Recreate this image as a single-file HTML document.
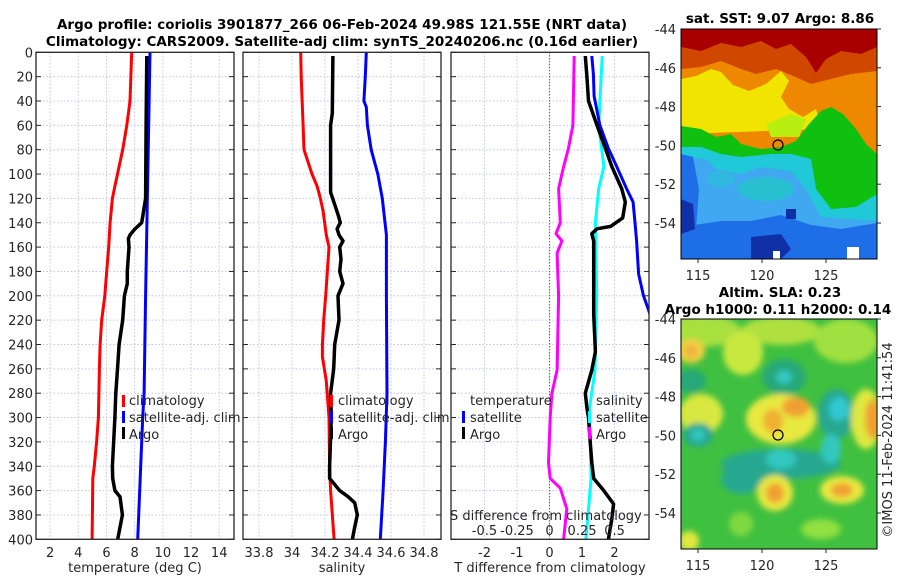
<!DOCTYPE html>
<html><head><meta charset="utf-8"><style>
html,body{margin:0;padding:0;background:#fff;}
svg{display:block;font-family:"DejaVu Sans","Liberation Sans",sans-serif;}
.tk{font-size:13px;fill:#262626;}
.tt{font-size:13.5px;font-weight:bold;fill:#000;}
</style></head><body>
<svg id="fig" width="900" height="580" viewBox="0 0 900 580" xmlns="http://www.w3.org/2000/svg">
<defs>
<clipPath id="c1"><rect x="36" y="52.3" width="198" height="487"/></clipPath>
<clipPath id="c2"><rect x="243" y="52.3" width="198" height="487"/></clipPath>
<clipPath id="c3"><rect x="451" y="52.3" width="198" height="487"/></clipPath>
<clipPath id="cm1"><rect x="0" y="0" width="196" height="230"/></clipPath>
<clipPath id="cm2"><rect x="0" y="0" width="196" height="230"/></clipPath>
<filter id="blur" x="-20%" y="-20%" width="140%" height="140%"><feGaussianBlur stdDeviation="3"/></filter>
</defs>
<text class="tt" x="342" y="29" text-anchor="middle">Argo profile: coriolis 3901877_266 06-Feb-2024 49.98S 121.55E (NRT data)</text>
<text class="tt" x="342" y="46" text-anchor="middle">Climatology: CARS2009. Satellite-adj clim: synTS_20240206.nc (0.16d earlier)</text>

<g id="grid"></g>
<g id="lines"></g>
<g id="frames"></g>

<g>
<rect x="122" y="395" width="3" height="12" fill="#ff0000"/><text class="tk" x="129" y="405">climatology</text>
<rect x="122" y="411" width="3" height="12" fill="#0000ff"/><text class="tk" x="129" y="422">satellite-adj. clim</text>
<rect x="122" y="427" width="3" height="12" fill="#000"/><text class="tk" x="129" y="439">Argo</text>
</g>
<g>
<rect x="330" y="395" width="3" height="12" fill="#ff0000"/><text class="tk" x="338" y="405">climatology</text>
<rect x="330" y="411" width="3" height="12" fill="#0000ff"/><text class="tk" x="338" y="422">satellite-adj. clim</text>
<rect x="330" y="427" width="3" height="12" fill="#000"/><text class="tk" x="338" y="439">Argo</text>
</g>
<g>
<text class="tk" x="470" y="405">temperature</text>
<rect x="462" y="411" width="3" height="12" fill="#0000ff"/><text class="tk" x="470" y="422">satellite</text>
<rect x="462" y="427" width="3" height="12" fill="#000"/><text class="tk" x="470" y="439">Argo</text>
<text class="tk" x="596" y="405">salinity</text>
<rect x="588" y="411" width="3" height="12" fill="#00ffff"/><text class="tk" x="596" y="422">satellite</text>
<rect x="588" y="427" width="3" height="12" fill="#ff00ff"/><text class="tk" x="596" y="439">Argo</text>
</g>
<text class="tk" x="450" y="520">S difference from climatology</text>
<g id="stick"></g>

<text class="tk" x="135" y="572" text-anchor="middle">temperature (deg C)</text>
<text class="tk" x="342" y="572" text-anchor="middle">salinity</text>
<text class="tk" x="550" y="572" text-anchor="middle">T difference from climatology</text>

<text class="tt" x="780" y="23" text-anchor="middle">sat. SST: 9.07 Argo: 8.86</text>
<g transform="translate(681,29)">
<g clip-path="url(#cm1)">
<rect x="0" y="0" width="196" height="230" fill="#a80000"/>
<path fill="#d04800" d="M0,18 L20,22 L40,14 L60,18 L80,12 L95,20 L110,15 L125,28 L135,44 L145,30 L160,22 L180,25 L196,18 V230 H0Z"/>
<path fill="#ee8800" d="M0,40 L20,38 L40,32 L60,40 L75,45 L95,40 L110,46 L130,55 L150,50 L170,45 L196,42 V230H0Z"/>
<path fill="#f0e400" d="M0,50 L15,47 L30,40 L40,43 L52,56 L68,62 L85,55 L100,42 L108,52 L100,68 L108,80 L122,88 L135,80 L140,100 L0,105Z"/>
<path fill="#b8ee10" d="M85,95 L110,85 L125,90 L118,108 L90,108Z"/>
<path fill="#10c010" d="M0,97 L20,100 L35,108 L50,105 L60,115 L80,120 L100,118 L115,112 L128,95 L140,82 L150,78 L162,85 L175,100 L185,115 L196,125 V230 H0Z"/>
<path fill="#20c8d8" d="M0,118 L20,118 L40,125 L60,128 L90,125 L110,125 L130,130 L135,160 L150,180 L175,178 L196,165 V230H0Z"/>
<path fill="#40a8f0" d="M0,128 L25,130 L35,140 L60,145 L80,138 L110,142 L125,160 L140,188 L196,192 V230 H0Z"/>
<ellipse cx="85" cy="160" rx="28" ry="12" fill="#28c0d0"/>
<ellipse cx="40" cy="150" rx="14" ry="8" fill="#30b8e0"/>
<path fill="#1e6ee8" d="M0,125 L12,128 L18,160 L15,200 L0,230Z"/>
<path fill="#1e6ee8" d="M0,198 L40,192 L70,192 L100,186 L130,196 L160,200 L196,194 V230H0Z"/>
<path fill="#1030a8" d="M0,170 L12,175 L14,200 L0,205Z"/>
<path fill="#1030a8" d="M70,208 L100,205 L110,220 L100,230 L70,230Z"/>
<rect x="105" y="180" width="10" height="10" fill="#1030a8"/>
<rect x="92" y="222" width="7" height="8" fill="#fff"/>
<rect x="166" y="218" width="12" height="12" fill="#fff"/>
</g>
<circle cx="97" cy="116" r="5" fill="none" stroke="#000" stroke-width="1.2"/>
<rect x="0" y="0" width="196" height="230" fill="none" stroke="#000" stroke-width="1"/>
</g>
<text class="tt" x="780" y="297" text-anchor="middle">Altim. SLA: 0.23</text>
<text class="tt" x="778" y="314" text-anchor="middle">Argo h1000: 0.11 h2000: 0.14</text>
<g transform="translate(681,319)">
<g clip-path="url(#cm2)">
<rect x="0" y="0" width="196" height="230" fill="#40c040"/>
<g filter="url(#blur)">
<ellipse cx="20" cy="12" rx="40" ry="16" fill="#a8e040"/>
<ellipse cx="100" cy="12" rx="40" ry="14" fill="#b0e040"/>
<ellipse cx="165" cy="22" rx="32" ry="22" fill="#a0e040"/>
<ellipse cx="62" cy="34" rx="20" ry="22" fill="#c8e840"/>
<ellipse cx="10" cy="32" rx="14" ry="12" fill="#f0d040"/>
<ellipse cx="10" cy="32" rx="6" ry="6" fill="#f0b040"/>
<ellipse cx="10" cy="62" rx="15" ry="12" fill="#28a878"/>
<ellipse cx="103" cy="58" rx="22" ry="18" fill="#28a878"/>
<ellipse cx="103" cy="58" rx="8" ry="7" fill="#30c8c0"/>
<ellipse cx="20" cy="95" rx="22" ry="20" fill="#d8e840"/>
<ellipse cx="100" cy="100" rx="35" ry="25" fill="#e8e840"/>
<ellipse cx="115" cy="88" rx="14" ry="10" fill="#f0a030"/>
<ellipse cx="92" cy="102" rx="10" ry="12" fill="#f0b030"/>
<ellipse cx="155" cy="95" rx="18" ry="25" fill="#28a890"/>
<ellipse cx="158" cy="90" rx="10" ry="12" fill="#30c8d0"/>
<ellipse cx="185" cy="100" rx="15" ry="30" fill="#e0e840"/>
<ellipse cx="192" cy="100" rx="8" ry="20" fill="#f0a030"/>
<ellipse cx="17" cy="116" rx="15" ry="12" fill="#28a890"/>
<ellipse cx="17" cy="116" rx="7" ry="6" fill="#30c8c0"/>
<ellipse cx="100" cy="145" rx="60" ry="15" fill="#28a890"/>
<ellipse cx="100" cy="140" rx="15" ry="10" fill="#30c8c0"/>
<ellipse cx="150" cy="130" rx="10" ry="15" fill="#30c8c0"/>
<ellipse cx="60" cy="160" rx="20" ry="15" fill="#28a890"/>
<ellipse cx="94" cy="174" rx="18" ry="18" fill="#e8e840"/>
<ellipse cx="94" cy="174" rx="9" ry="10" fill="#f0a030"/>
<ellipse cx="161" cy="171" rx="22" ry="14" fill="#e8e840"/>
<ellipse cx="161" cy="171" rx="11" ry="7" fill="#f0a030"/>
<ellipse cx="8" cy="222" rx="10" ry="10" fill="#e0e840"/>
<ellipse cx="140" cy="210" rx="20" ry="10" fill="#90e040"/>
<ellipse cx="60" cy="205" rx="12" ry="12" fill="#80d840"/>
</g>
</g>
<circle cx="97" cy="116" r="5" fill="none" stroke="#000" stroke-width="1.2"/>
<rect x="0" y="0" width="196" height="230" fill="none" stroke="#000" stroke-width="1"/>
</g>
<g id="mapticks"></g>
<text class="tk" x="0" y="0" transform="translate(892,440) rotate(-90)" text-anchor="middle">©IMOS 11-Feb-2024 11:41:54</text>
</svg>
<script>
// ---- data ----
const depthTicks = [0,20,40,60,80,100,120,140,160,180,200,220,240,260,280,300,320,340,360,380,400];
const tempTicks = [2,4,6,8,10,12,14];
const salTicks = [33.8,34,34.2,34.4,34.6,34.8];
const salTickLabels = ["33.8","34","34.2","34.4","34.6","34.8"];
const tdiffTicks = [-2,-1,0,1,2];
const sdiffTicks = [-0.5,-0.25,0,0.25,0.5];
const sdiffTickLabels = ["-0.5","-0.25","0","0.25","0.5"];

const tempClimDepth = [0,40,60,80,100,110,120,140,160,180,200,220,240,260,300,320,340,350,400];
const tempClim = [7.79,7.67,7.44,7.15,6.78,6.6,6.42,6.26,6.16,6.02,5.88,5.66,5.55,5.5,5.43,5.3,5.14,5.03,4.98];
const tempSatDepth = [0,100,200,280,300,340,400];
const tempSat = [9.09,8.93,8.78,8.67,8.57,8.43,8.22];
const tempArgoDepth = [3,60,120,135,140,145,150,153,160,180,190,200,220,240,260,280,300,340,350,360,365,380,400];
const tempArgo = [8.86,8.81,8.78,8.57,8.5,8.03,7.67,7.56,7.6,7.48,7.48,7.27,7.15,6.9,6.78,6.66,6.6,6.42,6.44,6.6,6.96,7.13,6.8];

const salClimDepth = [0,20,60,80,90,100,110,120,130,150,160,200,220,240,250,270,300,340,360,400];
const salClim = [34.053,34.056,34.067,34.073,34.097,34.121,34.152,34.172,34.188,34.208,34.224,34.204,34.192,34.184,34.184,34.208,34.224,34.228,34.234,34.255];
const salSatDepth = [0,20,40,45,60,80,100,120,150,200,280,320,360,400];
const salSat = [34.45,34.444,34.436,34.45,34.457,34.48,34.52,34.547,34.572,34.572,34.576,34.566,34.552,34.535];
const salArgoDepth = [3,50,60,100,115,125,135,140,145,150,155,160,170,180,190,200,220,240,260,280,300,340,350,355,360,365,370,380,390,400];
const salArgo = [34.248,34.244,34.234,34.234,34.234,34.259,34.283,34.293,34.273,34.285,34.309,34.289,34.297,34.289,34.309,34.279,34.285,34.259,34.253,34.234,34.238,34.228,34.228,34.259,34.289,34.34,34.38,34.396,34.38,34.366];

const tDiffArgoDepth = [3,20,40,60,79,94,112,123,136,143,145,149,155,200,215,246,261,280,292,300,320,337,350,360,371,383,400];
const tDiffArgo = [1.1,1.15,1.2,1.46,1.72,1.92,2.22,2.33,2.25,1.88,1.46,1.3,1.36,1.36,1.36,1.41,1.3,1.1,1.15,1.2,1.25,1.3,1.36,1.67,1.97,1.92,1.81];
const tDiffSatDepth = [3,18,36,60,79,94,112,123,140,155,182,200,212,240,300,400];
const tDiffSat = [1.3,1.35,1.37,1.55,1.81,2.07,2.37,2.57,2.63,2.68,2.74,2.89,3.05,3.4,3.9,4.5];
const sDiffArgoDepth = [3,60,79,94,112,140,149,155,165,200,261,280,300,337,350,358,375,400];
const sDiffArgo = [0.19,0.18,0.145,0.108,0.07,0.083,0.05,0.095,0.058,0.07,0.058,0.018,0.005,-0.008,0.005,0.083,0.133,0.108];
const sDiffSatDepth = [3,60,94,112,140,200,261,292,350,400];
const sDiffSat = [0.405,0.378,0.418,0.378,0.353,0.363,0.35,0.308,0.32,0.28];

const latTicks = [-44,-46,-48,-50,-52,-54];
const lonTicks = [115,120,125];

// ---- scales ----
const NS = 'http://www.w3.org/2000/svg';
const Y0 = 52.3, Y1 = 539.3;
function yD(d){ return Y0 + d/400*(Y1-Y0); }
function lin(d0,d1,r0,r1){ return v => r0 + (v-d0)/(d1-d0)*(r1-r0); }
const P = [
 {x0:36,x1:234,sx:lin(1,15.05,36,234),clip:'c1',name:'temperature'},
 {x0:243,x1:441,sx:lin(33.703,34.903,243,441),clip:'c2',name:'salinity'},
 {x0:451,x1:649,sx:lin(-3.03,3.06,451,649),clip:'c3',name:'difference'}
];
const sxS = v => P[2].sx(v*4);
function mk(tag, attrs, parent){
  const e = document.createElementNS(NS, tag);
  for (const k in attrs) e.setAttribute(k, attrs[k]);
  parent.appendChild(e); return e;
}
const G = document.getElementById('grid'), L = document.getElementById('lines'), F = document.getElementById('frames');

P.forEach((p,i)=>{
  const ticks = i==0?tempTicks:i==1?salTicks:tdiffTicks;
  ticks.forEach(t=>{
    const x = p.sx(t);
    const g = mk('line',{x1:x,x2:x,y1:Y0,y2:Y1,stroke:'#c4c4e6','stroke-width':1,'stroke-dasharray':'1.5,2'},G);
    
    
  });
  depthTicks.forEach(d=>{
    const y = yD(d);
    const g = mk('line',{x1:p.x0,x2:p.x1,y1:y,y2:y,stroke:'#c4c4e6','stroke-width':1,'stroke-dasharray':'1.5,2'},G);
    
    
  });
});
const z = mk('line',{x1:P[2].sx(0),x2:P[2].sx(0),y1:Y0,y2:Y1,stroke:'#2a5a2a','stroke-width':1.2,'stroke-dasharray':'1,2'},G);



function series(depths, vals, sx, color, w, clip, name){
  const pts = depths.map((d,i)=> sx(vals[i]).toFixed(1)+','+yD(d).toFixed(1)).join(' ');
  const pl = mk('polyline',{points:pts,fill:'none',stroke:color,'stroke-width':w,'stroke-linejoin':'round','clip-path':'url(#'+clip+')'},L);
  
  
}
series(tempClimDepth,tempClim,P[0].sx,'#ff0000',3,'c1','temp-climatology-line');
series(tempSatDepth,tempSat,P[0].sx,'#0000ff',3,'c1','temp-satellite-line');
series(tempArgoDepth,tempArgo,P[0].sx,'#000',3.5,'c1','temp-argo-line');
series(salClimDepth,salClim,P[1].sx,'#ff0000',3,'c2','sal-climatology-line');
series(salSatDepth,salSat,P[1].sx,'#0000ff',3,'c2','sal-satellite-line');
series(salArgoDepth,salArgo,P[1].sx,'#000',3.5,'c2','sal-argo-line');
series(sDiffArgoDepth,sDiffArgo,sxS,'#ff00ff',3,'c3','sdiff-argo-line');
series(sDiffSatDepth,sDiffSat,sxS,'#00ffff',3,'c3','sdiff-satellite-line');
series(tDiffSatDepth,tDiffSat,P[2].sx,'#0000ff',3,'c3','tdiff-satellite-line');
series(tDiffArgoDepth,tDiffArgo,P[2].sx,'#000',3.5,'c3','tdiff-argo-line');

P.forEach((p,i)=>{
  const r = mk('rect',{x:p.x0,y:Y0,width:p.x1-p.x0,height:Y1-Y0,fill:'none',stroke:'#262626','stroke-width':1.3},F);
  
  
  depthTicks.forEach(d=>{
    const y = yD(d);
    mk('line',{x1:p.x0,x2:p.x0+5,y1:y,y2:y,stroke:'#262626','stroke-width':1},F);
    mk('line',{x1:p.x1-5,x2:p.x1,y1:y,y2:y,stroke:'#262626','stroke-width':1},F);
  });
  const ticks = i==0?tempTicks:i==1?salTicks:tdiffTicks;
  ticks.forEach((t,j)=>{
    const tx = mk('text',{x:p.sx(t),y:557,'text-anchor':'middle',class:'tk'},F);
    tx.textContent = i==1?salTickLabels[j]:String(t);
    
    
  });
});
depthTicks.forEach(d=>{
  const tx = mk('text',{x:33,y:yD(d)+5,'text-anchor':'end',class:'tk'},F);
  tx.textContent = String(d);
  
  
});
const S = document.getElementById('stick');
sdiffTicks.forEach((t,j)=>{
  const tx = mk('text',{x:sxS(t),y:535,'text-anchor':'middle',class:'tk'},S);
  tx.textContent = sdiffTickLabels[j];
  
  
});

const M = document.getElementById('mapticks');
const lonX = lin(115,125,698,826);
[29,319].forEach((top,k)=>{
  const latY = lin(-44,-54,top,top+194);
  latTicks.forEach(l=>{
    const y = latY(l);
    const tx = mk('text',{x:676,y:y+5,'text-anchor':'end',class:'tk'},M);
    tx.textContent = String(l);
    
    
    mk('line',{x1:877,x2:881,y1:y,y2:y,stroke:'#262626'},M);
  });
  lonTicks.forEach(l=>{
    const x = lonX(l);
    const tx = mk('text',{x:x,y:top+251,'text-anchor':'middle',class:'tk'},M);
    tx.textContent = String(l);
    
    
    mk('line',{x1:x,x2:x,y1:top+230,y2:top+234,stroke:'#262626'},M);
  });
});
</script>
</body></html>
